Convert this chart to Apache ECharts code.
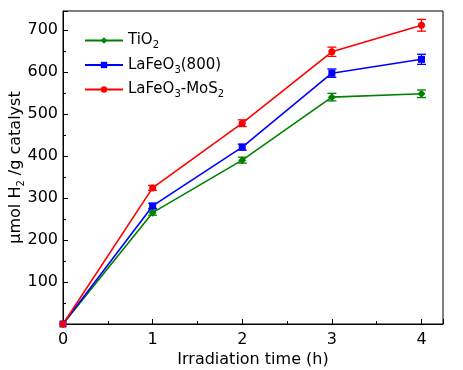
<!DOCTYPE html>
<html>
<head>
<meta charset="utf-8">
<script src="https://cdn.jsdelivr.net/npm/echarts@6/dist/echarts.min.js"></script>
<style>
  html, body { margin: 0; padding: 0; background: #fff; }
  #chart { width: 463px; height: 370px; }
</style>
</head>
<body>
<div id="chart"></div>
<script>
// irradiation time (h)
const times = [0, 1, 2, 3, 4]
// µmol H2 / g catalyst
const tio2 = [0, 265, 390, 540, 548]
const lafeo3 = [0, 281, 421, 597, 630]
const mos2 = [0, 324, 478, 648, 711]
// error bar half widths
const tio2Err = [0, 6, 7, 9, 9]
const lafeo3Err = [0, 6, 7, 10, 12]
const mos2Err = [0, 6, 8, 11, 14]

const green = "#008000"
const blue = "#0000ff"
const red = "#ff0000"

function pairs(ys) {
  return times.map((t, i) => [t, ys[i]])
}

function errSeries(ys, errs, color) {
  return {
    type: "custom",
    silent: true,
    z: 3,
    data: times.map((t, i) => [t, ys[i] - errs[i], ys[i] + errs[i]]).filter((d, i) => errs[i] > 0),
    renderItem: function (params, api) {
      let lo = api.coord([api.value(0), api.value(1)])
      let hi = api.coord([api.value(0), api.value(2)])
      let w = 4.5
      let style = { stroke: color, lineWidth: 1.3 }
      return {
        type: "group",
        children: [
          { type: "line", shape: { x1: lo[0], y1: lo[1], x2: hi[0], y2: hi[1] }, style: style },
          { type: "line", shape: { x1: lo[0] - w, y1: lo[1], x2: lo[0] + w, y2: lo[1] }, style: style },
          { type: "line", shape: { x1: hi[0] - w, y1: hi[1], x2: hi[0] + w, y2: hi[1] }, style: style }
        ]
      }
    }
  }
}

function lineSeries(name, ys, color, symbol, size) {
  return {
    name: name,
    type: "line",
    data: pairs(ys),
    symbol: symbol,
    symbolSize: size,
    showAllSymbol: true,
    color: color,
    lineStyle: { color: color, width: 1.6 },
    itemStyle: { color: color },
    z: 4
  }
}

let myChart = echarts.init(document.getElementById("chart"))
myChart.setOption({
  animation: false,
  textStyle: { fontFamily: "DejaVu Sans" },
  grid: {
    left: 63,
    right: 20,
    top: 11,
    bottom: 46,
    outerBoundsMode: "none",
    show: true,
    borderColor: "#000",
    borderWidth: 1
  },
  legend: {
    left: 79,
    top: 28,
    orient: "vertical",
    itemWidth: 38,
    itemHeight: 8,
    itemGap: 7,
    data: ["TiO2", "LaFeO3(800)", "LaFeO3-MoS2"],
    formatter: function (name) {
      if (name === "TiO2") return "{a|TiO}{s|2}"
      if (name === "LaFeO3(800)") return "{a|LaFeO}{s|3}{a|(800)}"
      return "{a|LaFeO}{s|3}{a|-MoS}{s|2}"
    },
    textStyle: {
      rich: {
        a: { fontSize: 15, color: "#000", fontFamily: "DejaVu Sans" },
        s: { fontSize: 10, color: "#000", fontFamily: "DejaVu Sans", padding: [10, 0, 0, 0] }
      }
    }
  },
  xAxis: {
    type: "value",
    min: 0,
    max: 4.24,
    interval: 1,
    name: "Irradiation time (h)",
    nameLocation: "middle",
    nameGap: 28,
    nameMoveOverlap: false,
    nameTextStyle: { fontSize: 16, color: "#000" },
    axisLine: { lineStyle: { color: "#000", width: 1 } },
    axisTick: { inside: true, length: 5, lineStyle: { color: "#000" } },
    minorTick: { show: true, splitNumber: 2, length: 3, lineStyle: { color: "#000" } },
    axisLabel: {
      fontSize: 16,
      color: "#000",
      margin: 8,
      showMaxLabel: false
    },
    splitLine: { show: false }
  },
  yAxis: {
    type: "value",
    min: 0,
    max: 745,
    interval: 100,
    name: "{a|μmol H}{s|2}{a| /g catalyst}",
    nameLocation: "middle",
    nameGap: 37,
    nameMoveOverlap: false,
    nameTextStyle: {
      rich: {
        a: { fontSize: 16, color: "#000", fontFamily: "DejaVu Sans" },
        s: { fontSize: 10, color: "#000", fontFamily: "DejaVu Sans", padding: [10, 0, 0, 0] }
      }
    },
    axisLine: { show: true, lineStyle: { color: "#000", width: 1 } },
    axisTick: { inside: true, length: 5, lineStyle: { color: "#000" } },
    minorTick: { show: true, splitNumber: 2, length: 3, lineStyle: { color: "#000" } },
    axisLabel: {
      fontSize: 16,
      color: "#000",
      margin: 5,
      showMaxLabel: false,
      formatter: function (v) { return v === 0 ? "" : v }
    },
    splitLine: { show: false }
  },
  series: [
    lineSeries("TiO2", tio2, green, "diamond", 8),
    lineSeries("LaFeO3(800)", lafeo3, blue, "rect", 7),
    lineSeries("LaFeO3-MoS2", mos2, red, "circle", 7),
    errSeries(tio2, tio2Err, green),
    errSeries(lafeo3, lafeo3Err, blue),
    errSeries(mos2, mos2Err, red)
  ]
})
</script>
</body>
</html>
